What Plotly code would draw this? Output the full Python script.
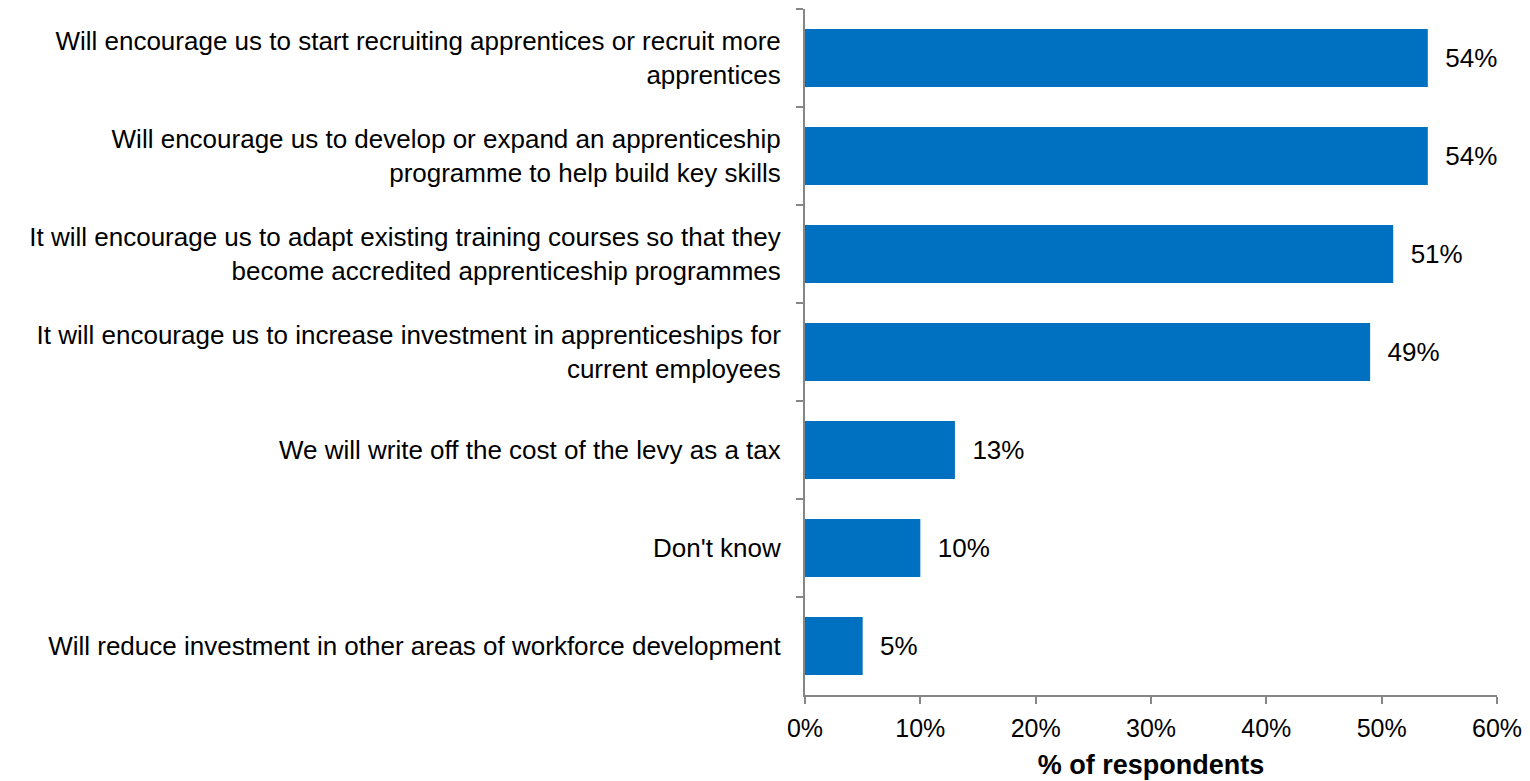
import plotly.graph_objects as go

categories = [
    "Will encourage us to start recruiting apprentices or recruit more<br>apprentices",
    "Will encourage us to develop or expand an apprenticeship<br>programme to help build key skills",
    "It will encourage us to adapt existing training courses so that they<br>become accredited apprenticeship programmes",
    "It will encourage us to increase investment in apprenticeships for<br>current employees",
    "We will write off the cost of the levy as a tax",
    "Don't know",
    "Will reduce investment in other areas of workforce development",
]
values = [54, 54, 51, 49, 13, 10, 5]
x_ticks = [0, 10, 20, 30, 40, 50, 60]
x_tick_labels = [f"{v}%" for v in x_ticks]

FONT = "Liberation Sans, Arial, sans-serif"
AXIS_GREY = "#868686"
FS = 26

fig = go.Figure(
    go.Bar(
        x=values,
        y=categories,
        orientation="h",
        marker=dict(color="#0070C0", line=dict(width=0)),
        text=[f"{v}%" for v in values],
        texttemplate="  %{text}",
        textposition="outside",
        textfont=dict(family=FONT, size=FS, color="black"),
        cliponaxis=False,
    )
)

fig.update_layout(
    width=1530,
    height=781,
    margin=dict(l=797, r=41, t=1, b=94),
    plot_bgcolor="white",
    paper_bgcolor="white",
    bargap=0.41,
    showlegend=False,
    font=dict(family=FONT, size=FS, color="black"),
    xaxis=dict(
        range=[0, 60],
        tickvals=x_ticks,
        ticktext=x_tick_labels,
        showgrid=False,
        zeroline=False,
        showline=True,
        linecolor=AXIS_GREY,
        linewidth=2,
        ticks="outside",
        ticklen=7,
        tickwidth=2,
        tickcolor=AXIS_GREY,
        ticklabelstandoff=3,
        tickfont=dict(family=FONT, size=25, color="black"),
        title=dict(
            text="<b>% of respondents</b>",
            font=dict(family=FONT, size=27, color="black"),
            standoff=14,
        ),
    ),
    yaxis=dict(
        autorange="reversed",
        showgrid=False,
        zeroline=False,
        showline=True,
        linecolor=AXIS_GREY,
        linewidth=2,
        ticks="outside",
        tickson="boundaries",
        ticklen=7,
        tickwidth=2,
        tickcolor=AXIS_GREY,
        ticklabelstandoff=17,
        tickfont=dict(family=FONT, size=FS, color="black"),
    ),
)

fig.write_html("out.html")
